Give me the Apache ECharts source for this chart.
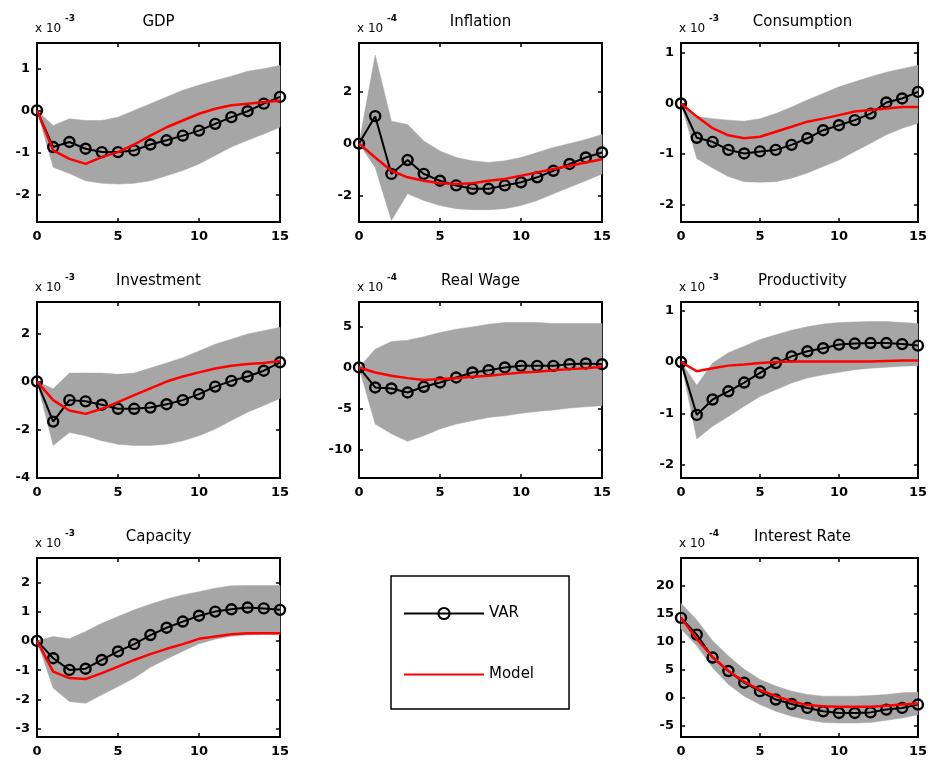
<!DOCTYPE html>
<html><head><meta charset="utf-8">
<script src="https://cdn.jsdelivr.net/npm/echarts@6/dist/echarts.min.js"></script>
<style>html,body{margin:0;padding:0;background:#fff}#c{width:930px;height:762px}</style>
</head><body><div id="c"></div>
<script>
const steps = [0,1,2,3,4,5,6,7,8,9,10,11,12,13,14,15];
const xTicks = [0,5,10,15];

const titles = ['GDP','Inflation','Consumption','Investment','Real Wage','Productivity','Capacity','Interest Rate'];
const exponents = ['-3','-4','-3','-3','-4','-3','-3','-4'];

const gdpVar   = [0,-0.87,-0.75,-0.91,-0.99,-0.99,-0.95,-0.81,-0.71,-0.6,-0.48,-0.32,-0.16,-0.02,0.16,0.32];
const gdpModel = [0,-0.95,-1.15,-1.27,-1.11,-0.99,-0.81,-0.6,-0.4,-0.24,-0.08,0.04,0.12,0.16,0.2,0.23];
const gdpLo    = [0,-1.35,-1.5,-1.67,-1.73,-1.75,-1.73,-1.67,-1.55,-1.43,-1.27,-1.07,-0.87,-0.71,-0.56,-0.4];
const gdpHi    = [0,-0.36,-0.2,-0.24,-0.24,-0.16,0,0.16,0.32,0.48,0.6,0.71,0.81,0.93,0.99,1.07];
const gdpTicks = [-2,-1,0,1];

const infVar   = [0,1.05,-1.16,-0.63,-1.16,-1.42,-1.6,-1.73,-1.73,-1.6,-1.48,-1.29,-1.04,-0.78,-0.53,-0.34];
const infModel = [0,-0.53,-1.04,-1.29,-1.42,-1.52,-1.55,-1.52,-1.42,-1.35,-1.23,-1.1,-0.97,-0.85,-0.72,-0.6];
const infLo    = [0,-0.91,-2.94,-1.92,-2.18,-2.37,-2.49,-2.53,-2.53,-2.49,-2.37,-2.18,-1.92,-1.67,-1.42,-1.16];
const infHi    = [0,3.39,0.86,0.73,0.1,-0.28,-0.53,-0.66,-0.72,-0.66,-0.53,-0.34,-0.15,0,0.16,0.35];
const infTicks = [-2,0,2];

const conVar   = [0,-0.68,-0.76,-0.92,-0.99,-0.95,-0.92,-0.82,-0.69,-0.53,-0.43,-0.33,-0.2,0.02,0.1,0.23];
const conModel = [0,-0.26,-0.49,-0.63,-0.69,-0.66,-0.56,-0.46,-0.36,-0.3,-0.23,-0.16,-0.13,-0.1,-0.07,-0.07];
const conLo    = [0,-1.09,-1.28,-1.45,-1.55,-1.56,-1.55,-1.48,-1.38,-1.25,-1.12,-0.95,-0.79,-0.62,-0.49,-0.39];
const conHi    = [0,-0.26,-0.3,-0.33,-0.35,-0.3,-0.2,-0.07,0.07,0.2,0.33,0.43,0.53,0.62,0.69,0.76];
const conTicks = [-2,-1,0,1];

const invVar   = [0,-1.66,-0.77,-0.82,-0.96,-1.13,-1.13,-1.08,-0.94,-0.77,-0.52,-0.21,0.03,0.21,0.45,0.8];
const invModel = [0,-0.77,-1.2,-1.34,-1.13,-0.85,-0.56,-0.28,0,0.21,0.38,0.54,0.66,0.73,0.77,0.85];
const invLo    = [0,-2.65,-2.11,-2.25,-2.46,-2.6,-2.65,-2.65,-2.6,-2.46,-2.25,-1.97,-1.62,-1.27,-0.99,-0.7];
const invHi    = [0,-0.3,0.35,0.35,0.35,0.3,0.35,0.56,0.77,0.99,1.27,1.55,1.76,1.97,2.11,2.25];
const invTicks = [-4,-2,0,2];

const rwVar   = [0,-2.44,-2.56,-3.05,-2.36,-1.83,-1.22,-0.61,-0.33,0,0.2,0.2,0.2,0.4,0.49,0.4];
const rwModel = [0,-0.61,-1.02,-1.3,-1.54,-1.42,-1.3,-1.14,-1.02,-0.81,-0.61,-0.53,-0.33,-0.2,-0.08,0.08];
const rwLo    = [0,-6.9,-8.1,-9.02,-8.33,-7.5,-6.91,-6.5,-6.1,-5.9,-5.6,-5.37,-5.2,-4.96,-4.8,-4.67];
const rwHi    = [0,2.24,3.17,3.33,3.74,4.27,4.67,4.96,5.28,5.49,5.49,5.49,5.37,5.37,5.37,5.37];
const rwTicks = [-10,-5,0,5];

const proVar   = [0,-1.03,-0.73,-0.57,-0.4,-0.21,-0.02,0.11,0.21,0.27,0.34,0.36,0.37,0.37,0.35,0.32];
const proModel = [0,-0.18,-0.12,-0.07,-0.05,-0.02,0,0.01,0.01,0.01,0.01,0.01,0.01,0.02,0.03,0.03];
const proLo    = [0,-1.5,-1.25,-1.06,-0.86,-0.67,-0.54,-0.41,-0.31,-0.25,-0.2,-0.15,-0.12,-0.1,-0.08,-0.07];
const proHi    = [0,-0.45,-0.02,0.18,0.31,0.44,0.53,0.62,0.69,0.74,0.77,0.78,0.79,0.79,0.77,0.75];
const proTicks = [-2,-1,0,1];

const capVar   = [0,-0.59,-0.99,-0.95,-0.65,-0.36,-0.11,0.2,0.45,0.66,0.86,1.0,1.08,1.14,1.11,1.06];
const capModel = [0,-1.05,-1.27,-1.3,-1.1,-0.88,-0.65,-0.45,-0.27,-0.11,0.07,0.15,0.23,0.26,0.26,0.26];
const capLo    = [0,-1.61,-2.07,-2.13,-1.84,-1.56,-1.27,-0.9,-0.62,-0.35,-0.1,0.06,0.16,0.2,0.22,0.22];
const capHi    = [0,0.15,0.07,0.32,0.6,0.83,1.06,1.25,1.43,1.57,1.68,1.8,1.88,1.89,1.89,1.89];
const capTicks = [-3,-2,-1,0,1,2];

const irVar   = [14.3,11.3,7.2,4.8,2.7,1.2,-0.3,-1.1,-1.8,-2.4,-2.7,-2.7,-2.6,-2.1,-1.8,-1.2];
const irModel = [14.3,10.5,7.3,4.8,2.9,1.4,0.3,-0.6,-1.3,-1.5,-1.6,-1.6,-1.6,-1.4,-1.2,-1.0];
const irLo    = [12.3,9.3,5.4,2.4,0.3,-1.2,-2.4,-3.3,-3.9,-4.4,-4.5,-4.5,-4.4,-4.0,-3.6,-3.0];
const irHi    = [16.9,13.9,10.2,7.5,5.1,3.3,2.1,1.2,0.6,0.3,0.3,0.3,0.4,0.6,0.9,1.0];
const irTicks = [-5,0,5,10,15,20];

const yMins = [-2.65,-3.0,-2.35,-4.0,-13.5,-2.26,-3.28,-7];
const yMaxs = [1.6,3.85,1.2,3.3,8.0,1.17,2.83,25];

const varSets   = [gdpVar,infVar,conVar,invVar,rwVar,proVar,capVar,irVar];
const modelSets = [gdpModel,infModel,conModel,invModel,rwModel,proModel,capModel,irModel];
const loSets    = [gdpLo,infLo,conLo,invLo,rwLo,proLo,capLo,irLo];
const hiSets    = [gdpHi,infHi,conHi,invHi,rwHi,proHi,capHi,irHi];
const tickSets  = [gdpTicks,infTicks,conTicks,invTicks,rwTicks,proTicks,capTicks,irTicks];

// layout
const colLeft = [37, 359, 681];
const rowTop = [43, 302, 558];
const rowH = [179, 176, 179];
const W = 243;
const cells = [[0,0],[0,1],[0,2],[1,0],[1,1],[1,2],[2,0],[2,2]];
const FONT = 'DejaVu Sans';

const pairs = arr => steps.map((x, i) => [x, arr[i]]);

const grid = [], xAxis = [], yAxis = [], series = [], graphic = [];
cells.forEach(([r, c], p) => {
  const left = colLeft[c], top = rowTop[r], h = rowH[r];
  grid.push({left: left, top: top, width: W, height: h, show: true, borderColor: '#000', borderWidth: 2, backgroundColor: '#fff'});
  const tick = {show: true, inside: true, length: 4, lineStyle: {color: '#000', width: 1.5}};
  const line = {show: true, onZero: false, lineStyle: {color: '#000', width: 2}};
  xAxis.push({gridIndex: p, type: 'value', min: 0, max: 15, interval: 5, position: 'bottom',
    axisLine: line, axisTick: tick, splitLine: {show: false},
    axisLabel: {color: '#000', fontSize: 13, fontWeight: 'bold', fontFamily: FONT, margin: 8}});
  xAxis.push({gridIndex: p, type: 'value', min: 0, max: 15, interval: 5, position: 'top',
    axisLine: line, axisTick: tick, splitLine: {show: false}, axisLabel: {show: false}});
  const ticks = tickSets[p];
  yAxis.push({gridIndex: p, type: 'value', min: yMins[p], max: yMaxs[p], position: 'left',
    axisLine: line, axisTick: Object.assign({customValues: ticks}, tick), splitLine: {show: false},
    axisLabel: {color: '#000', fontSize: 13, fontWeight: 'bold', fontFamily: FONT, margin: 7, customValues: ticks}});
  yAxis.push({gridIndex: p, type: 'value', min: yMins[p], max: yMaxs[p], position: 'right',
    axisLine: line, axisTick: Object.assign({customValues: ticks}, tick), splitLine: {show: false},
    axisLabel: {show: false, customValues: ticks}});

  const lo = loSets[p], hi = hiSets[p];
  series.push({type: 'custom', xAxisIndex: 2*p, yAxisIndex: 2*p, name: 'band-' + p, silent: true, z: 1,
    data: steps.map((x, i) => [x, lo[i], hi[i]]),
    encode: {x: 0, y: [1, 2]},
    renderItem: function (params, api) {
      if (params.dataIndex !== 0) return null;
      const upper = steps.map((x, i) => api.coord([x, hi[i]]));
      const lower = steps.map((x, i) => api.coord([x, lo[i]])).reverse();
      return {type: 'polygon', shape: {points: upper.concat(lower)},
        style: {fill: '#a6a6a6', stroke: '#a6a6a6', lineWidth: 0.5}};
    }});
  series.push({type: 'line', xAxisIndex: 2*p, yAxisIndex: 2*p, name: 'VAR', data: pairs(varSets[p]),
    color: '#000', lineStyle: {color: '#000', width: 2}, symbol: 'circle', symbolSize: 10, showAllSymbol: true,
    itemStyle: {color: 'rgba(0,0,0,0)', borderColor: '#000', borderWidth: 2.4}, clip: false, z: 3,
    emphasis: {disabled: true}});
  series.push({type: 'line', xAxisIndex: 2*p, yAxisIndex: 2*p, name: 'Model', data: pairs(modelSets[p]),
    color: '#ff0000', lineStyle: {color: '#ff0000', width: 2.5}, symbol: 'none', clip: false, z: 4,
    itemStyle: {opacity: 0}, emphasis: {disabled: true}});

  graphic.push({type: 'text', x: left + W / 2, y: top - 21,
    style: {text: titles[p], font: '15px "' + FONT + '"', fill: '#000', textAlign: 'center', textVerticalAlign: 'middle', align: 'center', verticalAlign: 'middle'}});
  graphic.push({type: 'text', x: left - 2, y: top - 14,
    style: {text: 'x 10', font: '12px "' + FONT + '"', fill: '#000', textAlign: 'left', textVerticalAlign: 'middle', align: 'left', verticalAlign: 'middle'}});
  graphic.push({type: 'text', x: left + 28, y: top - 24,
    style: {text: exponents[p], font: 'bold 9px "' + FONT + '"', fill: '#000', textAlign: 'left', textVerticalAlign: 'middle', align: 'left', verticalAlign: 'middle'}});
});

const chart = echarts.init(document.getElementById('c'), null, {renderer: 'canvas'});
chart.setOption({
  animation: false,
  backgroundColor: '#fff',
  grid, xAxis, yAxis, series, graphic,
  legend: {data: ['VAR', {name: 'Model', itemStyle: {opacity: 0}}], orient: 'vertical', left: 391, top: 576,
    padding: [30, 35, 27, 12], itemGap: 46, itemWidth: 80, itemHeight: 14,
    borderColor: '#000', borderWidth: 1.5, backgroundColor: '#fff', selectedMode: false,
    textStyle: {color: '#000', fontSize: 15, fontFamily: FONT}}
});
</script></body></html>
